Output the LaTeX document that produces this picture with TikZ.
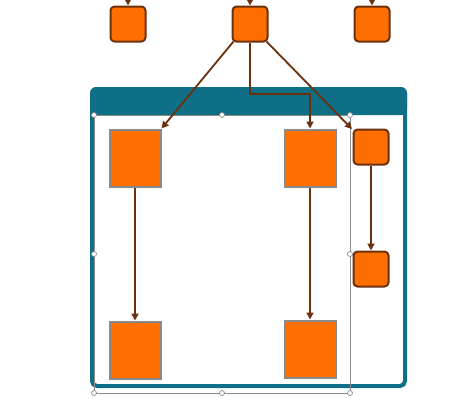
\documentclass[tikz,border=0pt]{standalone}
\usetikzlibrary{arrows.meta}
\definecolor{orng}{HTML}{FF6E00}
\definecolor{brn}{HTML}{6B300C}
\definecolor{teal2}{HTML}{0E6F87}
\definecolor{gry}{HTML}{8A8A8A}
\begin{document}
\begin{tikzpicture}[x=1pt,y=-1pt,
  small/.style={draw=brn,fill=orng,line width=2pt,rounded corners=4pt,minimum width=35pt,minimum height=35pt,inner sep=0pt},
  big/.style={draw=gry,fill=orng,line width=2pt,minimum width=51pt,minimum height=57pt,inner sep=0pt},
  handle/.style={circle,draw=gry,fill=white,line width=0.7pt,inner sep=0pt,minimum size=5pt},
  conn/.style={draw=brn,line width=1.8pt,-{Triangle[length=7pt,width=7pt]}}]
\useasboundingbox (0,0) rectangle (460,400);
\clip (0,0) rectangle (460,400);
% container
\node[draw=teal2,line width=4pt,rounded corners=5pt,minimum width=313pt,minimum height=297pt,inner sep=0pt] (cont) at (248.5,237.5) {};
\fill[teal2,rounded corners=6pt] (90,87) rectangle (407,115);
\fill[teal2] (90,105) rectangle (407,115);
% selection rectangle
\draw[gry,line width=1pt] (94,115) rectangle (350,393);
\foreach \p in {(94,115),(222,115),(350,115),(94,254),(350,254),(94,393),(222,393),(350,393)}
  \node[handle] at \p {};
% top boxes
\node[small] (t1) at (128,24) {};
\node[small] (t2) at (250,24) {};
\node[small] (t3) at (372,24) {};
\coordinate (i1) at (128,-8);
\coordinate (i2) at (250,-8);
\coordinate (i3) at (372,-8);
% big boxes
\node[big] (b1) at (135,158) {};
\node[big] (b2) at (310,158) {};
\node[big] (b3) at (135,350) {};
\node[big] (b4) at (310,349) {};
% right small boxes
\node[small] (r1) at (371,147) {};
\node[small] (r2) at (371,269) {};
% connectors
\draw[conn] (i1) -- (t1.north);
\draw[conn] (i2) -- (t2.north);
\draw[conn] (i3) -- (t3.north);
\draw[conn] (t2.south west) ++(2,-1) coordinate (s1) (s1) -- (b1.north east);
\draw[conn] (t2.south) |- (280,94) -| (b2.north);
\draw[conn] (t2.south east) ++(-2,-1) coordinate (s2) (s2) -- (352,129);
\draw[conn] (b1.south) -- (b3.north);
\draw[conn] (b2.south) -- (b4.north);
\draw[conn] (r1.south) -- (r2.north);
\end{tikzpicture}
\end{document}
